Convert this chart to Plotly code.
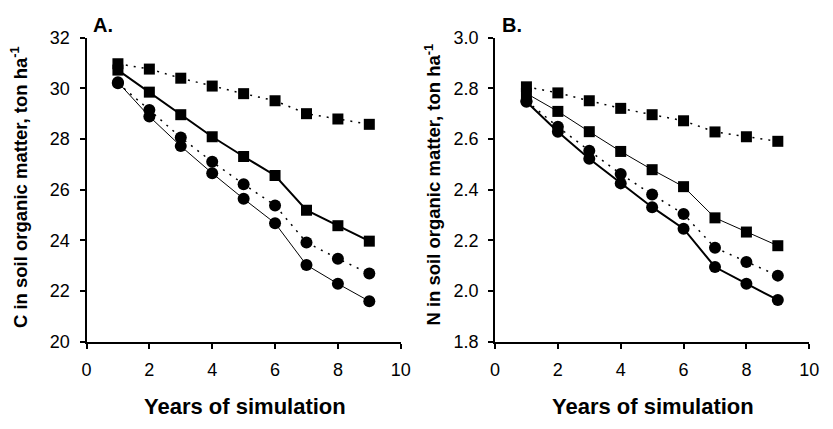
import plotly.graph_objects as go

years = [1, 2, 3, 4, 5, 6, 7, 8, 9]

# Panel A: C in soil organic matter (ton/ha)
c_sq_dot = [30.97, 30.76, 30.40, 30.09, 29.79, 29.51, 29.00, 28.79, 28.58]
c_sq_solid = [30.72, 29.85, 28.96, 28.09, 27.31, 26.56, 25.19, 24.58, 23.97]
c_ci_dot = [30.20, 29.15, 28.06, 27.10, 26.22, 25.38, 23.92, 23.28, 22.69]
c_ci_solid = [30.24, 28.89, 27.72, 26.65, 25.64, 24.68, 23.03, 22.29, 21.60]

# Panel B: N in soil organic matter (ton/ha)
n_sq_dot = [2.806, 2.782, 2.751, 2.721, 2.696, 2.672, 2.628, 2.609, 2.591]
n_sq_solid = [2.780, 2.709, 2.629, 2.551, 2.479, 2.412, 2.289, 2.233, 2.179]
n_ci_dot = [2.750, 2.648, 2.554, 2.462, 2.381, 2.304, 2.171, 2.115, 2.061]
n_ci_solid = [2.747, 2.629, 2.522, 2.425, 2.331, 2.246, 2.095, 2.029, 1.965]

xticks = [0, 2, 4, 6, 8, 10]
c_ticks = [20, 22, 24, 26, 28, 30, 32]
n_ticks = [1.8, 2.0, 2.2, 2.4, 2.6, 2.8, 3.0]

FONT = "Liberation Sans, Arial, sans-serif"
DOT = "2px,6px"

fig = go.Figure()

def add(x, y, xa, ya, symbol, dash, width, size):
    fig.add_trace(go.Scatter(
        x=x, y=y, xaxis=xa, yaxis=ya, mode="lines+markers",
        line=dict(color="black", width=width, dash=dash),
        marker=dict(symbol=symbol, color="black", size=size),
        showlegend=False, cliponaxis=False))

# Panel A
add(years, c_sq_dot, "x", "y", "square", DOT, 1.5, 11)
add(years, c_sq_solid, "x", "y", "square", "solid", 2, 11)
add(years, c_ci_dot, "x", "y", "circle", DOT, 1.5, 12)
add(years, c_ci_solid, "x", "y", "circle", "solid", 1, 12)
# Panel B
add(years, n_sq_dot, "x2", "y2", "square", DOT, 1.5, 11)
add(years, n_sq_solid, "x2", "y2", "square", "solid", 1, 11)
add(years, n_ci_dot, "x2", "y2", "circle", DOT, 1.5, 12)
add(years, n_ci_solid, "x2", "y2", "circle", "solid", 2, 12)

W, H = 833, 429
xdomA = [83 / W, 403 / W]
xdomB = [499 / W, 819 / W]
ydom = [(H - 348) / H, (H - 29) / H]

axis_common = dict(showgrid=False, zeroline=False, showline=True, linecolor="black",
                   linewidth=2, ticks="outside", ticklen=5, tickwidth=2, tickcolor="black",
                   tickfont=dict(family=FONT, size=18, color="black"))

fig.update_layout(
    width=W, height=H,
    margin=dict(l=0, r=0, t=0, b=0),
    paper_bgcolor="white", plot_bgcolor="white",
    xaxis=dict(domain=xdomA, range=[0, 10], tickvals=xticks, anchor="y",
               ticklabelstandoff=6, **axis_common),
    yaxis=dict(domain=ydom, range=[20, 32], tickvals=c_ticks, anchor="x",
               ticklabelstandoff=6, **axis_common),
    xaxis2=dict(domain=xdomB, range=[0, 10], tickvals=xticks, anchor="y2",
                ticklabelstandoff=6, **axis_common),
    yaxis2=dict(domain=ydom, range=[1.8, 3.0], tickvals=n_ticks, tickformat=".1f", anchor="x2",
                ticklabelstandoff=6, **axis_common),
)

ann = []
ann.append(dict(text="<b>A.</b>", x=88 / W, y=(H - 16) / H, xref="paper", yref="paper",
                xanchor="left", yanchor="middle", showarrow=False,
                font=dict(family=FONT, size=20, color="black")))
ann.append(dict(text="<b>B.</b>", x=504 / W, y=(H - 16) / H, xref="paper", yref="paper",
                xanchor="left", yanchor="middle", showarrow=False,
                font=dict(family=FONT, size=20, color="black")))
ann.append(dict(text="<b>C in soil organic matter, ton ha<sup>-1</sup></b>", x=15 / W, y=(H - 186) / H,
                xref="paper", yref="paper", xanchor="center", yanchor="middle", textangle=-90,
                showarrow=False, font=dict(family=FONT, size=18.5, color="black")))
ann.append(dict(text="<b>N in soil organic matter, ton ha<sup>-1</sup></b>", x=436 / W, y=(H - 183) / H,
                xref="paper", yref="paper", xanchor="center", yanchor="middle", textangle=-90,
                showarrow=False, font=dict(family=FONT, size=18.5, color="black")))
ann.append(dict(text="<b>Years of simulation</b>", x=244 / W, y=(H - 416) / H,
                xref="paper", yref="paper", xanchor="center", yanchor="middle",
                showarrow=False, font=dict(family=FONT, size=22, color="black")))
ann.append(dict(text="<b>Years of simulation</b>", x=660 / W, y=(H - 416) / H,
                xref="paper", yref="paper", xanchor="center", yanchor="middle",
                showarrow=False, font=dict(family=FONT, size=22, color="black")))
fig.update_layout(annotations=ann)

fig.write_html("out.html")
